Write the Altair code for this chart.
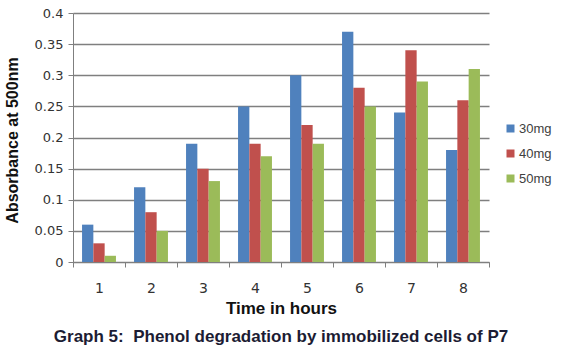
import altair as alt
import pandas as pd

hours = ["1", "2", "3", "4", "5", "6", "7", "8"]
doses = ["30mg", "40mg", "50mg"]
vals_30 = [0.06, 0.12, 0.19, 0.25, 0.30, 0.37, 0.24, 0.18]
vals_40 = [0.03, 0.08, 0.15, 0.19, 0.22, 0.28, 0.34, 0.26]
vals_50 = [0.01, 0.05, 0.13, 0.17, 0.19, 0.25, 0.29, 0.31]
colors = ["#4F81BD", "#C0504D", "#9BBB59"]
y_ticks = [0, 0.05, 0.1, 0.15, 0.2, 0.25, 0.3, 0.35, 0.4]

rows = []
for d, vals in zip(doses, [vals_30, vals_40, vals_50]):
    for h, v in zip(hours, vals):
        rows.append({"hour": h, "dose": d, "value": v})
df = pd.DataFrame(rows)

chart = alt.Chart(df).mark_bar().encode(
    x=alt.X(
        "hour:O",
        sort=hours,
        scale=alt.Scale(paddingInner=0, paddingOuter=0),
        axis=alt.Axis(
            title="Time in hours",
            labelAngle=0,
            tickBand="extent",
            grid=False,
            labelFont="DejaVu Sans",
            labelFontSize=14,
            labelColor="#333333",
            labelPadding=14,
            domainColor="#7f7f7f",
            tickColor="#7f7f7f",
            tickSize=5,
            titleFont="Liberation Sans",
            titleFontSize=17,
            titleFontWeight="bold",
            titleColor="#111111",
            titleX=208,
            titleY=46,
            titleBaseline="middle",
        ),
    ),
    xOffset=alt.XOffset(
        "dose:N", sort=doses, scale=alt.Scale(paddingInner=0, paddingOuter=0.8)
    ),
    y=alt.Y(
        "value:Q",
        scale=alt.Scale(domain=[0, 0.4], nice=False),
        axis=alt.Axis(
            title="Absorbance at 500nm",
            values=y_ticks,
            labelExpr="'' + datum.value",
            labelFont="DejaVu Sans",
            labelFontSize=13,
            labelColor="#333333",
            labelPadding=5,
            domainColor="#7f7f7f",
            tickColor="#7f7f7f",
            tickSize=5,
            gridColor="#7f7f7f",
            gridWidth=1.3,
            titleFont="Liberation Sans",
            titleFontSize=16,
            titleFontWeight="bold",
            titleColor="#111111",
            titleX=-61,
            titleY=127,
            titleAngle=270,
            titleBaseline="middle",
        ),
    ),
    color=alt.Color(
        "dose:N",
        scale=alt.Scale(domain=doses, range=colors),
        legend=alt.Legend(
            title=None,
            orient="none",
            legendX=431,
            legendY=109,
            symbolType="square",
            symbolSize=64,
            symbolStrokeWidth=0,
            labelFont="Liberation Sans",
            labelFontSize=13,
            labelColor="#404040",
            rowPadding=11,
            labelOffset=2,
        ),
    ),
).properties(
    width=416,
    height=249,
    autosize="none",
    background="white",
    padding={"left": 73, "top": 13, "right": 76, "bottom": 89},
    title=alt.TitleParams(
        "Graph 5: \u00a0Phenol degradation by immobilized cells of P7",
        orient="bottom",
        anchor="middle",
        offset=13,
        font="Liberation Sans",
        fontSize=17,
        fontWeight="bold",
        color="#1c1c33",
    ),
).configure_view(stroke=None)

chart.save("out.html", embed_options={"renderer": "svg", "actions": False})
